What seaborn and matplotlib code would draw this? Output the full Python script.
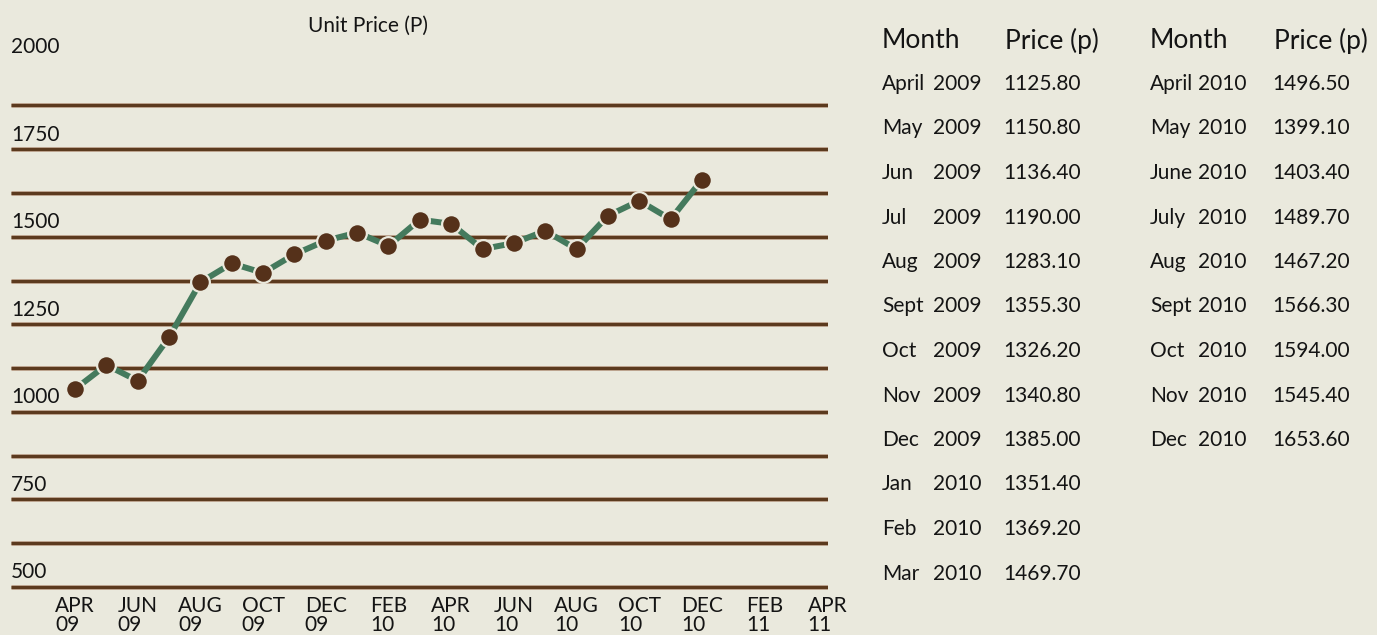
import numpy as np
import pandas as pd
import matplotlib
matplotlib.use("Agg")
import matplotlib.pyplot as plt
import matplotlib.transforms as mtrans
import seaborn as sns

# ---- data -------------------------------------------------------------
plot_months = ["Apr 2009", "May 2009", "Jun 2009", "Jul 2009", "Aug 2009", "Sep 2009",
               "Oct 2009", "Nov 2009", "Dec 2009", "Jan 2010", "Feb 2010", "Mar 2010",
               "Apr 2010", "May 2010", "Jun 2010", "Jul 2010", "Aug 2010", "Sep 2010",
               "Oct 2010", "Nov 2010", "Dec 2010"]
plot_values = [1065, 1134, 1089, 1213, 1370, 1424, 1397, 1450, 1489, 1512, 1474,
               1549, 1537, 1465, 1482, 1517, 1465, 1560, 1603, 1550, 1663]

x_tick_labels = ["APR\n09", "JUN\n09", "AUG\n09", "OCT\n09", "DEC\n09", "FEB\n10",
                 "APR\n10", "JUN\n10", "AUG\n10", "OCT\n10", "DEC\n10", "FEB\n11", "APR\n11"]
y_tick_values = [500, 750, 1000, 1250, 1500, 1750, 2000]

table_headers = ["Month", "Price (p)"]
table1_months = ["April", "May", "Jun", "Jul", "Aug", "Sept", "Oct", "Nov", "Dec", "Jan", "Feb", "Mar"]
table1_years = ["2009"] * 9 + ["2010"] * 3
table1_prices = ["1125.80", "1150.80", "1136.40", "1190.00", "1283.10", "1355.30",
                 "1326.20", "1340.80", "1385.00", "1351.40", "1369.20", "1469.70"]
table2_months = ["April", "May", "June", "July", "Aug", "Sept", "Oct", "Nov", "Dec"]
table2_years = ["2010"] * 9
table2_prices = ["1496.50", "1399.10", "1403.40", "1489.70", "1467.20", "1566.30",
                 "1594.00", "1545.40", "1653.60"]

# ---- style ------------------------------------------------------------
BG = "#EAE9DD"
GRID = "#5C3A1E"
GREEN = "#447A5D"
BROWN = "#55311A"
TXT = "#141414"

sns.set_style("white", {"axes.facecolor": BG, "figure.facecolor": BG})
plt.rcParams["font.family"] = ["Lato", "DejaVu Sans"]

W, H = 1377, 635
fig = plt.figure(figsize=(W / 100, H / 100), dpi=100)
fig.patch.set_facecolor(BG)
ax = fig.add_axes([11 / W, (H - 594) / H, 817 / W, (594 - 61.7) / H])
ax.set_facecolor(BG)

df = pd.DataFrame({"month": np.arange(len(plot_values)), "price": plot_values,
                   "label": plot_months})

ax.set_xlim(-2.04, 24.02)
ax.set_ylim(480, 2000)

for g in np.arange(500, 2000, 125):
    ax.axhline(g, color="#B89E88", lw=3.4, zorder=1, solid_capstyle="butt")
    ax.axhline(g, color=GRID, lw=2.2, zorder=1.5, solid_capstyle="butt")

sns.lineplot(data=df, x="month", y="price", ax=ax, color=GREEN, linewidth=4.3,
             marker="o", markersize=13.5, markerfacecolor=BROWN,
             markeredgecolor=BG, markeredgewidth=1.6, zorder=3)

ax.set_xlabel("")
ax.set_ylabel("")
for s in ax.spines.values():
    s.set_visible(False)

ax.set_xticks(np.arange(0, 2 * len(x_tick_labels), 2))
ax.set_xticklabels(x_tick_labels, fontsize=15, linespacing=0.95,
                   multialignment="left", color=TXT)
ax.tick_params(axis="x", length=0, pad=1.5)

ax.set_yticks(y_tick_values)
ax.set_yticklabels([str(v) for v in y_tick_values], fontsize=15, color=TXT)
ax.tick_params(axis="y", length=0, pad=0)
offset = mtrans.ScaledTranslation(0, 16.5 / 100, fig.dpi_scale_trans)
for lab in ax.get_yticklabels():
    lab.set_horizontalalignment("left")
    lab.set_transform(lab.get_transform() + offset)

def px(x, y):
    return x / W, 1 - y / H

fig.text(*px(368, 26), "Unit Price (P)", ha="center", va="center",
         fontsize=15, color=TXT)

# ---- table -------------------------------------------------------------
header_base = 48.5
row_base0 = 90
row_step = 44.5

col_sets = [
    (882, 933, 1003, table1_months, table1_years, table1_prices),
    (1150, 1198, 1272, table2_months, table2_years, table2_prices),
]
for mx, yx, pxx, months, years, prices in col_sets:
    fig.text(*px(mx, header_base), table_headers[0], ha="left", va="baseline",
             fontsize=19, color=TXT)
    fig.text(*px(pxx + 2, header_base), table_headers[1], ha="left", va="baseline",
             fontsize=19, color=TXT)
    for i, (m, yr, pr) in enumerate(zip(months, years, prices)):
        yb = row_base0 + row_step * i
        fig.text(*px(mx, yb), m, ha="left", va="baseline", fontsize=15, color=TXT)
        fig.text(*px(yx, yb), yr, ha="left", va="baseline", fontsize=15, color=TXT)
        fig.text(*px(pxx, yb), pr, ha="left", va="baseline", fontsize=15, color=TXT)

fig.savefig("out.png", dpi=100, facecolor=BG)
